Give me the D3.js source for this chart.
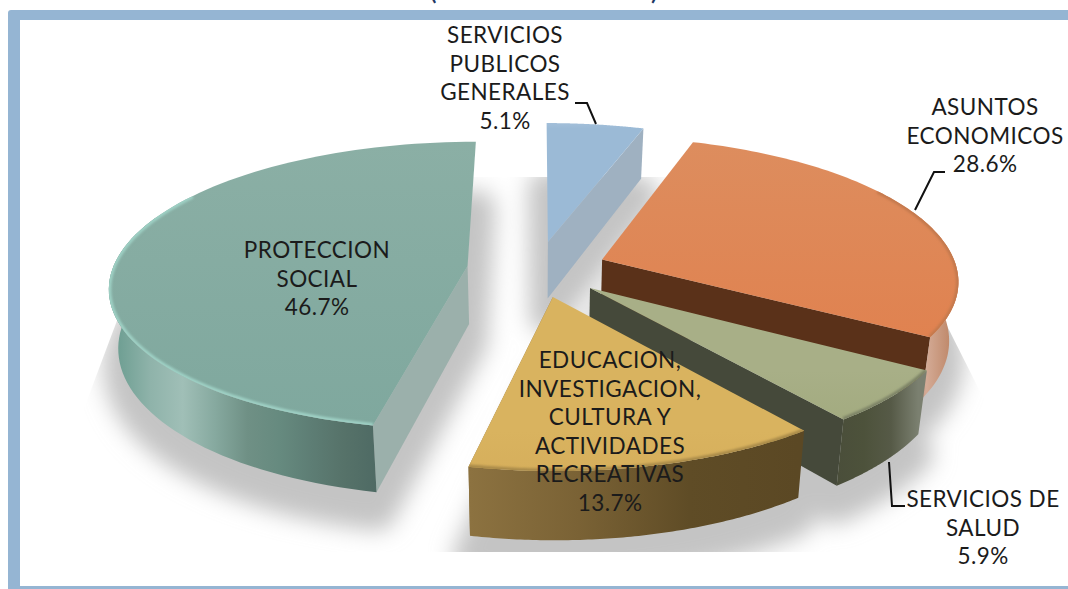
<!DOCTYPE html>
<html lang="es">
<head>
<meta charset="UTF-8">
<title>Gasto por funcion</title>
<script src="https://cdn.jsdelivr.net/npm/d3@7"></script>
<style>
	html, body { margin: 0; padding: 0; background: #fff; overflow: hidden; }
	svg { display: block; }
	text { font-family: Lato, "Open Sans", sans-serif; font-size: 22.5px; letter-spacing: 0.45px; fill: #1b1b1b; text-anchor: middle; }
</style>
</head>
<body>
<div id="chart"></div>
<script>
// values, clockwise from 12 o'clock
const categories = ["SERVICIOS PUBLICOS GENERALES", "ASUNTOS ECONOMICOS", "SERVICIOS DE SALUD",
	"EDUCACION, INVESTIGACION, CULTURA Y ACTIVIDADES RECREATIVAS", "PROTECCION SOCIAL"];
const shares = [5.1, 28.6, 5.9, 13.7, 46.7];
const labelLines = [
	["SERVICIOS", "PUBLICOS", "GENERALES"],
	["ASUNTOS", "ECONOMICOS"],
	["SERVICIOS DE", "SALUD"],
	["EDUCACION,", "INVESTIGACION,", "CULTURA Y", "ACTIVIDADES", "RECREATIVAS"],
	["PROTECCION", "SOCIAL"]
];

const width = 1068, height = 589;
const cx = 537, cy = 269, R = 355, tilt = 0.4, persp = 0.136, explode = 70, depth = 58, taper = 0.022;

const topColors = [["#a3bfd9", "#9bbad6"], ["#dd8d5e", "#e08250"], ["#a8af87", "#a3ab80"], ["#d9b35f", "#d6af5c"], ["#8bafa5", "#7fa89e"]];
const wallStops = [
	["#9fb2c4", "#9fb2c4"],
	["#8c5f47", "#d4ab96", "#c08a6c"],
	["#4a4e3a", "#4d523b", "#565a47", "#7b8070"],
	["#8c7240", "#7a6235", "#5f4c26", "#5b4824"],
	["#6f9f93", "#8fb3aa", "#a0bfb7", "#86a99f", "#6f9085", "#668a7f", "#5d7d74", "#567269", "#4e6a64"]
];
const faceColors = ["#9fb1c1", "#5a3119", "#45493a", "#8c7240", "#9bb0ab"];
const faceSide = ["end", "end", "end", "end", "start"];
const rimColors = ["#a8c2da", "#c4794d", "#7d8366", "#a98a48", "#9ed0c4"];
const labelAnchor = [[505, 43], [985, 115], [983, 507], [610, 368], [317, 258]];
const leaders = [
	[[575, 103], [587, 103], [596, 124]],
	[[945, 172], [934, 172], [915, 210]],
	[[905, 506], [892, 506], [889, 462]]
];
const lineGap = 28.6;

const svg = d3.select("#chart").append("svg").attr("width", width).attr("height", height);
const defs = svg.append("defs");

const pie = d3.pie().sort(null).startAngle(0).endAngle(2 * Math.PI);
const slices = pie(shares);

// exploded pie coordinates -> screen, simple one point perspective
// the bottom ring is tapered a little because verticals converge downward
function point(d, angle, r, h) {
	const mid = (d.startAngle + d.endAngle) / 2;
	const X = explode * Math.sin(mid) + r * Math.sin(angle);
	const Z = -explode * Math.cos(mid) - r * Math.cos(angle);
	const s = 1 / (1 - persp * Z / R);
	const k = 1 - taper * h / depth;
	return [cx + X * s * k, cy + tilt * Z * s + h * s];
}
function arcPoints(d, h) {
	const n = 90;
	return d3.range(n + 1).map(i => point(d, d.startAngle + (d.endAngle - d.startAngle) * i / n, R, h));
}
const line = d3.line();

function gradient(id, x1, x2, y1, y2, colors) {
	const g = defs.append("linearGradient").attr("id", id).attr("gradientUnits", "userSpaceOnUse")
		.attr("x1", x1).attr("x2", x2).attr("y1", y1).attr("y2", y2);
	colors.forEach((c, i) => g.append("stop").attr("offset", i / (colors.length - 1)).attr("stop-color", c));
}
function blur(id, dev) {
	defs.append("filter").attr("id", id).attr("x", "-30%").attr("y", "-30%").attr("width", "160%").attr("height", "160%")
		.append("feGaussianBlur").attr("stdDeviation", dev);
}
blur("shadowBlur", 11);
blur("rimBlur", 1.2);

// frame
svg.append("rect").attr("x", 8).attr("y", 10).attr("width", width).attr("height", 590).attr("rx", 3).attr("fill", "#95b5d3");
svg.append("rect").attr("x", 20).attr("y", 20).attr("width", width).attr("height", 566).attr("fill", "#fff");

// what is left of the cropped title
svg.append("text").attr("x", 433).attr("y", -1).style("font-size", "30px").style("fill", "#1f3864").text("(");
svg.append("text").attr("x", 655).attr("y", -1).style("font-size", "30px").style("fill", "#1f3864").text(")");

// floor shadow, cut by a trapezoid like the original
defs.append("clipPath").attr("id", "floor").append("path")
	.attr("d", line([[171, 177], [872, 177], [1061, 552], [30, 552]]) + "Z");
const shadow = svg.append("g").attr("clip-path", "url(#floor)").append("g").attr("filter", "url(#shadowBlur)");
slices.forEach(d => {
	const apex = point(d, d.startAngle, 0, 76);
	shadow.append("path").attr("fill", "#c4c4c4").attr("stroke", "#c4c4c4").attr("stroke-width", 36)
		.attr("stroke-linejoin", "round")
		.attr("d", line([apex, ...arcPoints(d, 76)]) + "Z");
});

// back to front
[0, 1, 4, 2, 3].forEach(i => {
	const d = slices[i];
	const g = svg.append("g").attr("class", "slice").attr("data-name", categories[i]);
	const top = arcPoints(d, 0), bottom = arcPoints(d, depth);
	const apex = point(d, d.startAngle, 0, 0), apexLow = point(d, d.startAngle, 0, depth);

	// the cut face turned towards the viewer
	const k = faceSide[i] === "end" ? top.length - 1 : 0;
	g.append("path").attr("fill", faceColors[i]).attr("d", line([apex, top[k], bottom[k], apexLow]) + "Z");

	// outer wall, only the part in front of the apex shows
	const frontIdx = d3.range(top.length).filter(j => top[j][1] > apex[1] - 50);
	if (i !== 0 && frontIdx.length > 1) {
		const upper = frontIdx.map(j => top[j]), lower = frontIdx.map(j => bottom[j]);
		const xs = d3.extent(lower, p => p[0]);
		gradient("wall" + i, xs[0], xs[1], 0, 0, wallStops[i]);
		g.append("path").attr("fill", `url(#wall${i})`).attr("d", line([...upper, ...lower.reverse()]) + "Z");
	}

	// top face
	const ys = d3.extent(top, p => p[1]);
	gradient("top" + i, 0, 0, ys[0], ys[1], topColors[i]);
	const clipId = "faceClip" + i;
	const face = line([apex, ...top]) + "Z";
	defs.append("clipPath").attr("id", clipId).append("path").attr("d", face);
	g.append("path").attr("fill", `url(#top${i})`).attr("d", face);

	// soft rim inside the outer edge, only where it faces us
	const rim = top.filter(p => p[1] > apex[1] - 70);
	if (i !== 0 && rim.length > 1) {
		g.append("g").attr("clip-path", `url(#${clipId})`).append("path")
			.attr("fill", "none").attr("stroke", rimColors[i]).attr("stroke-width", 5)
			.attr("filter", "url(#rimBlur)").attr("d", line(rim));
	}
});

// leader lines
svg.append("g").selectAll("path").data(leaders).join("path")
	.attr("fill", "none").attr("stroke", "#111").attr("stroke-width", 2)
	.attr("d", d => line(d));

// labels, category lines then share
const fmt = d3.format(".1f");
svg.append("g").selectAll("text").data(slices).join("text")
	.attr("x", (d, i) => labelAnchor[i][0])
	.attr("y", (d, i) => labelAnchor[i][1])
	.each(function (d, i) {
		const t = d3.select(this);
		[...labelLines[i], fmt(d.data) + "%"].forEach((s, k) => {
			t.append("tspan").attr("x", labelAnchor[i][0]).attr("dy", k ? lineGap : 0).text(s);
		});
	});
</script>
</body>
</html>
